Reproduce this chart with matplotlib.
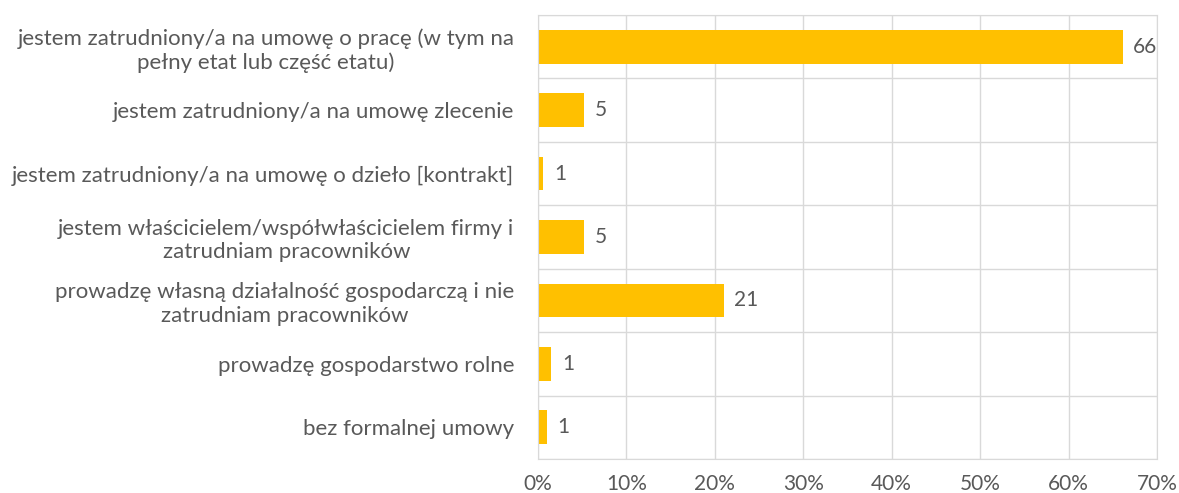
import matplotlib.pyplot as plt
import numpy as np

categories = [
    "jestem zatrudniony/a na umowę o pracę (w tym na\npełny etat lub część etatu)",
    "jestem zatrudniony/a na umowę zlecenie",
    "jestem zatrudniony/a na umowę o dzieło [kontrakt]",
    "jestem właścicielem/współwłaścicielem firmy i\nzatrudniam pracowników",
    "prowadzę własną działalność gospodarczą i nie\nzatrudniam pracowników",
    "prowadzę gospodarstwo rolne",
    "bez formalnej umowy",
]
values = [66.1, 5.2, 0.6, 5.2, 21.0, 1.5, 1.0]   # percent
labels = ["66", "5", "1", "5", "21", "1", "1"]

bar_color = "#FFC000"
text_color = "#595959"
grid_color = "#D9D9D9"

plt.rcParams['font.family'] = ['Lato', 'DejaVu Sans']

fig = plt.figure(figsize=(11.79, 4.93), dpi=100)
ax = fig.add_axes([538 / 1179, 1 - 459 / 493, (1157 - 538) / 1179, (459 - 15) / 493])

y = np.arange(len(categories))
ax.barh(y, values, height=0.53, color=bar_color)
for yi, v, lab in zip(y, values, labels):
    ax.text(v + 1.2, yi, lab, va='center', ha='left', fontsize=15, color=text_color)

ax.set_xlim(0, 70)
ax.set_ylim(len(categories) - 0.5, -0.5)
ax.set_xticks(np.arange(0, 71, 10))
ax.set_xticklabels([f"{t}%" for t in range(0, 71, 10)])
ax.set_yticks(y)
ax.set_yticklabels(categories, multialignment='center', linespacing=1.2)
ax.tick_params(axis='both', length=0, labelsize=15, colors=text_color)
ax.tick_params(axis='y', labelsize=16, pad=17)
ax.tick_params(axis='x', pad=11)

ax.set_yticks(np.arange(-0.5, len(categories), 1), minor=True)
ax.grid(True, axis='x', color=grid_color, linewidth=1)
ax.grid(True, axis='y', which='minor', color=grid_color, linewidth=1)
ax.tick_params(which='minor', length=0)
ax.set_axisbelow(True)
for s in ax.spines.values():
    s.set_color(grid_color)

fig.savefig("out.png", dpi=100)
